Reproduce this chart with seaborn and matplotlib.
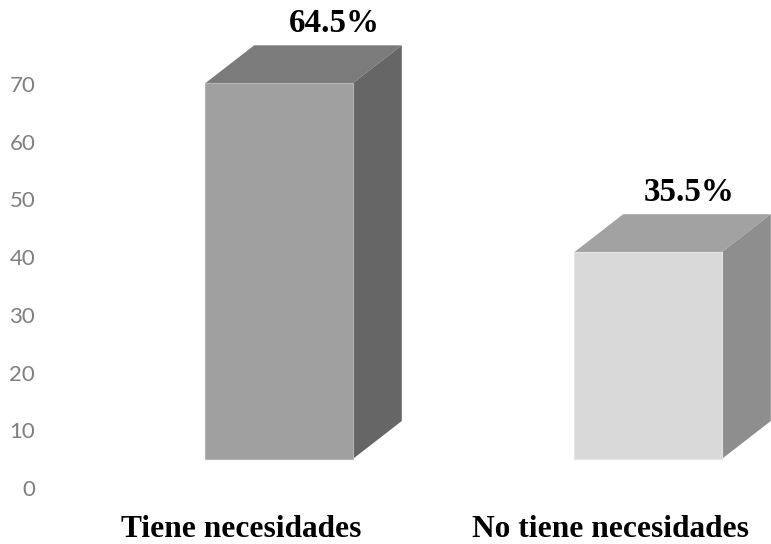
import matplotlib
matplotlib.use("Agg")
import matplotlib.pyplot as plt
from matplotlib.patches import Polygon
from matplotlib.transforms import ScaledTranslation
import seaborn as sns

categories = ["Tiene necesidades", "No tiene necesidades"]
percentages = [64.5, 35.5]
axis_ticks = [0, 10, 20, 30, 40, 50, 60, 70]

front_colors = ["#a0a0a0", "#d9d9d9"]
top_colors = ["#7b7b7b", "#a2a2a2"]
side_colors = ["#666666", "#8e8e8e"]
edge_colors = ["#b4b4b4", "#e4e4e4"]

W, H, DPI = 771, 544, 100
AX_LEFT, AX_BOTTOM = 38, 505          # pixel position of the axes corner
BAR_X0, BAR_STEP = 279, 369           # centre of the first bar and bar spacing, px
FLOOR_Y, BAR_SCALE = 459, 5.825       # floor row and px per unit for the bars
TICK_Y0, TICK_SCALE = 488, 5.771      # row of the tick 0 and px per unit for the ticks
DEPTH_X, DEPTH_Y = 49, 38             # oblique extrusion of the boxes, px

sns.set_theme(style="white")
fig = plt.figure(figsize=(W / DPI, H / DPI), dpi=DPI)
ax = fig.add_axes([AX_LEFT / W, (H - AX_BOTTOM) / H, 1 - AX_LEFT / W, AX_BOTTOM / H])

sns.barplot(x=categories, y=percentages, hue=categories, palette=front_colors,
            width=0.4, saturation=1, legend=False, ax=ax, zorder=3)
ax.set_xlim((AX_LEFT - BAR_X0) / BAR_STEP, (W - BAR_X0) / BAR_STEP)
ax.set_ylim((FLOOR_Y - AX_BOTTOM) / BAR_SCALE, FLOOR_Y / BAR_SCALE)

# Extrude each bar into a box: top and right faces come from the bar's own geometry
dx = DEPTH_X / BAR_STEP
dy = DEPTH_Y / BAR_SCALE
for i, bar in enumerate(ax.patches):
    x0, x1 = bar.get_x(), bar.get_x() + bar.get_width()
    y0, y1 = bar.get_y(), bar.get_y() + bar.get_height()
    bar.set_edgecolor(edge_colors[i])
    bar.set_linewidth(0.8)
    ax.add_patch(Polygon([(x0, y1), (x1, y1), (x1 + dx, y1 + dy), (x0 + dx, y1 + dy)],
                         closed=True, facecolor=top_colors[i], edgecolor="none", zorder=2))
    ax.add_patch(Polygon([(x1, y0), (x1 + dx, y0 + dy), (x1 + dx, y1 + dy), (x1, y1)],
                         closed=True, facecolor=side_colors[i], edgecolor="none", zorder=2))

# Percentage labels float over the boxes
label_shift = [55, 41]
for i, bar in enumerate(ax.patches[:len(percentages)]):
    ax.annotate(f"{percentages[i]}%",
                xy=(bar.get_x() + bar.get_width() / 2, bar.get_y() + bar.get_height()),
                xytext=(label_shift[i] * 72 / DPI, 60 * 72 / DPI), textcoords="offset points",
                ha="center", va="center", fontsize=23.8, fontweight="bold",
                family="Liberation Serif", color="black")

# Category labels sit left of the bar centres because of the oblique floor
ax.set_xticks(range(len(categories)), categories)
ax.tick_params(axis="x", length=0, pad=7)
shift = ScaledTranslation(-38 / DPI, 0, fig.dpi_scale_trans)
for lab in ax.get_xticklabels():
    lab.set_transform(lab.get_transform() + shift)
    lab.set_fontfamily("Liberation Serif")
    lab.set_fontweight("bold")
    lab.set_fontsize(22.6)
    lab.set_color("black")
ax.set_yticks([])
ax.set_xlabel("")
ax.set_ylabel("")

# The value axis is drawn separately, on its own offset scale
scale_ax = ax.twinx()
scale_ax.set_ylim((TICK_Y0 - AX_BOTTOM) / TICK_SCALE, TICK_Y0 / TICK_SCALE)
scale_ax.yaxis.tick_left()
scale_ax.set_yticks(axis_ticks)
scale_ax.tick_params(axis="y", length=0, pad=2, labelsize=16, labelcolor="#7f7f7f")
for lab in scale_ax.get_yticklabels():
    lab.set_fontfamily("Lato")

for a in (ax, scale_ax):
    for s in a.spines.values():
        s.set_visible(False)
    a.patch.set_visible(False)

fig.savefig("out.png", dpi=DPI, facecolor="white")
